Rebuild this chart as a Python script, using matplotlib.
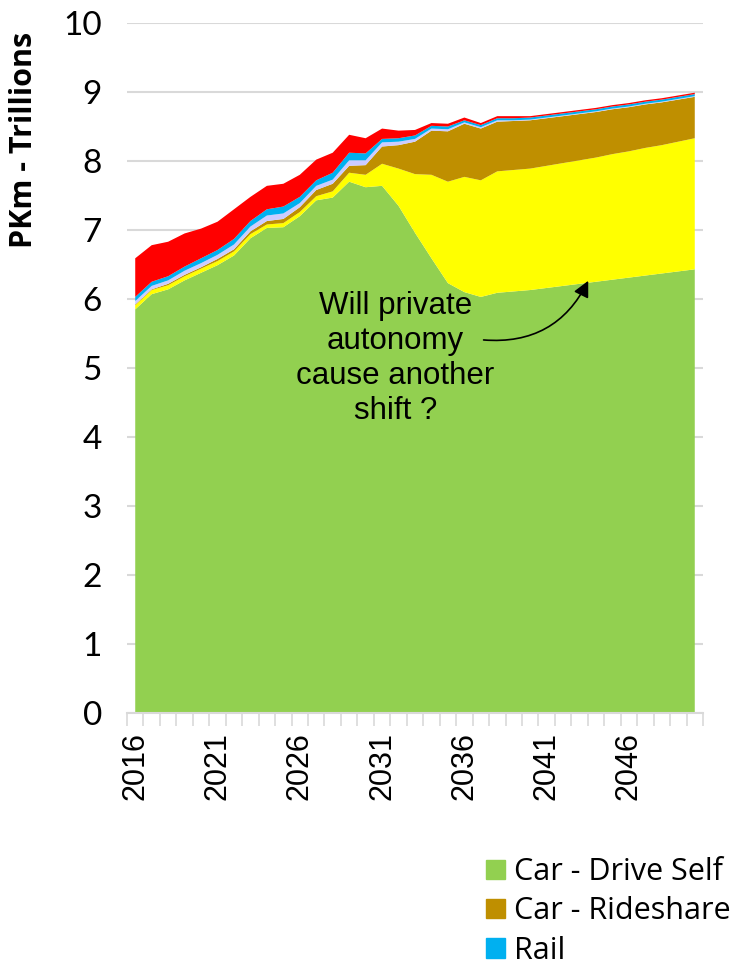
import numpy as np
import matplotlib
matplotlib.use("Agg")
from matplotlib import pyplot as plt
from matplotlib.patches import Patch

# Passenger-km by mode, trillions
years = list(range(2016, 2051))
drive_self = [5.85, 6.07, 6.14, 6.27, 6.38, 6.49, 6.63, 6.88, 7.03, 7.04,
              7.20, 7.43, 7.47, 7.70, 7.62, 7.64, 7.35, 6.96, 6.59, 6.23,
              6.10, 6.03, 6.09, 6.11, 6.13, 6.16, 6.19, 6.22, 6.25, 6.28,
              6.31, 6.34, 6.37, 6.40, 6.43]
autonomous = [0.06, 0.06, 0.06, 0.06, 0.06, 0.06, 0.06, 0.06, 0.05, 0.06,
              0.06, 0.06, 0.09, 0.13, 0.18, 0.32, 0.54, 0.85, 1.21, 1.47,
              1.67, 1.69, 1.76, 1.76, 1.76, 1.77, 1.78, 1.79, 1.80, 1.82,
              1.83, 1.85, 1.86, 1.88, 1.90]
rideshare = [0.01, 0.01, 0.02, 0.02, 0.02, 0.03, 0.03, 0.04, 0.05, 0.06,
             0.07, 0.09, 0.11, 0.10, 0.14, 0.25, 0.34, 0.47, 0.64, 0.73,
             0.77, 0.75, 0.72, 0.71, 0.70, 0.69, 0.68, 0.67, 0.66, 0.65,
             0.64, 0.63, 0.62, 0.61, 0.60]
bus = [0.05, 0.05, 0.05, 0.06, 0.06, 0.06, 0.07, 0.07, 0.08, 0.08,
       0.06, 0.06, 0.06, 0.08, 0.07, 0.06, 0.05, 0.04, 0.03, 0.03,
       0.02, 0.02, 0.02, 0.01, 0.01, 0.01, 0.01, 0.01, 0.01, 0.01,
       0.01, 0.01, 0.01, 0.01, 0.01]
rail = [0.06, 0.06, 0.06, 0.06, 0.07, 0.07, 0.08, 0.08, 0.09, 0.10,
        0.09, 0.08, 0.10, 0.11, 0.10, 0.05, 0.05, 0.05, 0.04, 0.04,
        0.03, 0.03, 0.03, 0.03, 0.03, 0.03, 0.03, 0.03, 0.03, 0.03,
        0.03, 0.03, 0.03, 0.03, 0.03]
air = [0.56, 0.53, 0.50, 0.48, 0.43, 0.41, 0.43, 0.35, 0.34, 0.33,
       0.32, 0.30, 0.29, 0.26, 0.22, 0.15, 0.11, 0.08, 0.04, 0.04,
       0.04, 0.03, 0.03, 0.03, 0.02, 0.02, 0.02, 0.02, 0.02, 0.02,
       0.02, 0.02, 0.02, 0.02, 0.02]

colors = ["#92D050", "#FFFF00", "#BF8F00", "#CCCCFF", "#00B0F0", "#FF0000"]

fig = plt.figure(figsize=(7.47, 9.69), dpi=100)
ax = fig.add_axes([127 / 747, 1 - 713 / 969, 576 / 747, 690 / 969])

x = np.arange(len(years))
ax.stackplot(x, drive_self, autonomous, rideshare, bus, rail, air,
             colors=colors, linewidth=0, zorder=2)

ax.set_xlim(-0.5, len(years) - 0.5)
ax.set_ylim(0, 10)
ax.set_yticks(range(0, 11))
ax.set_yticklabels([str(v) for v in range(0, 11)], family="Lato", fontsize=24)
ax.grid(axis="y", color="#D9D9D9", linewidth=1.5, zorder=0)
ax.tick_params(axis="y", length=0, pad=18)

# category labels every 5 years, ticks on category boundaries
ax.set_xticks(x[::5])
ax.set_xticklabels([str(years[i]) for i in x[::5]], rotation=90,
                   family="Liberation Sans", fontsize=22)
ax.set_xticks(np.arange(-0.5, len(years)), minor=True)
ax.tick_params(axis="x", which="major", length=0, pad=14)
ax.tick_params(axis="x", which="minor", length=9, width=1.2, color="#D9D9D9")

for s in ["top", "right", "left"]:
    ax.spines[s].set_visible(False)
ax.spines["bottom"].set_color("#D9D9D9")
ax.spines["bottom"].set_linewidth(1.5)

fig.text(24 / 747, 1 - 140 / 969, "PKm - Trillions", rotation=90,
         ha="center", va="center", family="Open Sans", fontweight="bold",
         fontsize=22)

ax.text(15.8, 5.14, "Will private\nautonomy\ncause another\nshift ?",
        ha="center", va="center", family="Liberation Sans", fontsize=22.5,
        linespacing=1.22, zorder=5)
ax.annotate("", xy=(27.6, 6.3), xytext=(21.0, 5.41),
            arrowprops=dict(arrowstyle="-|>", color="black", lw=1.2,
                            mutation_scale=24,
                            connectionstyle="arc3,rad=0.35"),
            zorder=5)

handles = [Patch(color=colors[0], label="Car - Drive Self"),
           Patch(color=colors[2], label="Car - Rideshare"),
           Patch(color=colors[4], label="Rail")]
fig.legend(handles=handles, loc="upper left",
           bbox_to_anchor=(471 / 747, 1 - 842 / 969), frameon=False,
           prop={"family": "Open Sans", "size": 22}, handlelength=0.6,
           handleheight=0.6, handletextpad=0.3, labelspacing=0.3,
           borderpad=0)

fig.savefig("out.png", dpi=100)
